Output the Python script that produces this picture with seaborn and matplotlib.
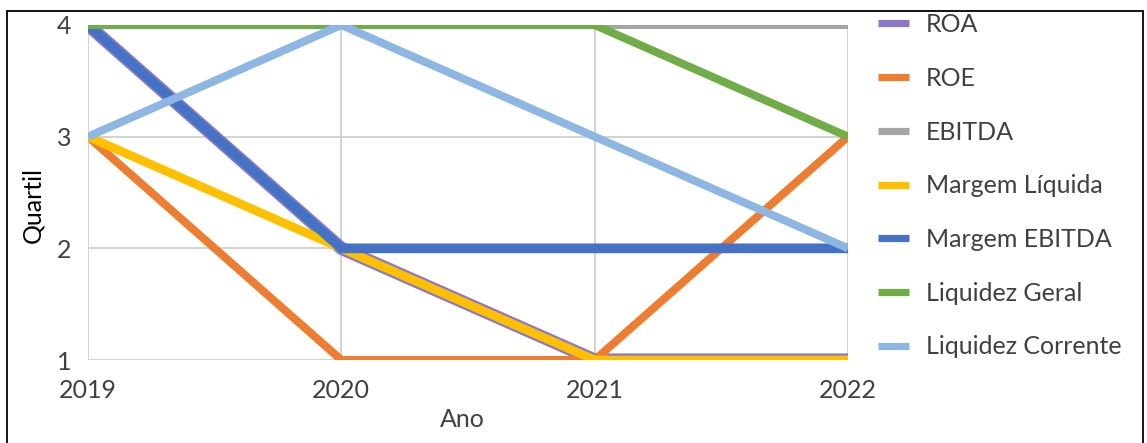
import matplotlib
matplotlib.use("Agg")
import matplotlib.pyplot as plt
import seaborn as sns
import pandas as pd
from matplotlib.lines import Line2D
from matplotlib.patches import Rectangle

anos = [2019, 2020, 2021, 2022]
roa = [4, 2, 1, 1]
roe = [3, 1, 1, 3]
ebitda = [4, 4, 4, 4]
margem_liquida = [3, 2, 1, 1]
margem_ebitda = [4, 2, 2, 2]
liquidez_geral = [4, 4, 4, 3]
liquidez_corrente = [3, 4, 3, 2]

series_names = ["ROA", "ROE", "EBITDA", "Margem Líquida", "Margem EBITDA",
                "Liquidez Geral", "Liquidez Corrente"]
series_values = [roa, roe, ebitda, margem_liquida, margem_ebitda,
                 liquidez_geral, liquidez_corrente]
colors = ["#8B78C8", "#ED7D31", "#A5A5A5", "#FFC000", "#4472C4",
          "#70AD47", "#8DB7E2"]
widths = [9.5, 5.8, 5.8, 6.3, 7.0, 5.8, 5.8]

rows = []
for name, vals in zip(series_names, series_values):
    for a, v in zip(anos, vals):
        rows.append({"Ano": a, "Quartil": v, "Indicador": name})
df = pd.DataFrame(rows)

sns.set_theme(style="white")
plt.rcParams["font.family"] = ["Lato", "DejaVu Sans"]

fig = plt.figure(figsize=(11.47, 4.43), dpi=100)
ax = fig.add_axes([88 / 1147, 83 / 443, 760 / 1147, 335 / 443])

for i, (name, col, lw) in enumerate(zip(series_names, colors, widths)):
    sub = df[df["Indicador"] == name]
    sns.lineplot(data=sub, x="Ano", y="Quartil", color=col, lw=lw, ax=ax,
                 zorder=3 + i, solid_joinstyle="miter", solid_capstyle="butt",
                 legend=False)

ax.set_xlim(2019, 2022)
ax.set_ylim(1, 4)
ax.set_xticks(anos)
ax.set_xticklabels([str(a) for a in anos])
ax.set_yticks([1, 2, 3, 4])
ax.grid(True, color="#D0D0D0", lw=1.3, zorder=0)
for s in ax.spines.values():
    s.set_visible(False)
ax.tick_params(axis="both", length=0, labelsize=18, colors="#404040")
ax.tick_params(axis="x", pad=14)
ax.tick_params(axis="y", pad=12)

ax.set_xlabel("Ano", fontsize=18, color="#404040")
ax.set_ylabel("Quartil", fontsize=18, color="#000000")
ax.xaxis.set_label_coords((462 - 88) / 760, (360 - 408) / 335)
ax.yaxis.set_label_coords((44 - 88) / 760, (360 - 205) / 335)

handles = [Line2D([0], [0], color=c, lw=5.2, solid_capstyle="butt")
           for c in colors]
leg = fig.legend(handles, series_names, loc="upper left",
                 bbox_to_anchor=(868 / 1147, 1 - 3 / 443), frameon=False,
                 fontsize=18, handlelength=1.25, handletextpad=0.65,
                 labelspacing=1.23, borderaxespad=0)
for t in leg.get_texts():
    t.set_color("#404040")

fig.patches.append(Rectangle((7 / 1147, -0.1), 1136 / 1147, 1.1 - 11 / 443,
                             transform=fig.transFigure, fill=False,
                             edgecolor="black", lw=1.3))

fig.savefig("out.png", dpi=100)
